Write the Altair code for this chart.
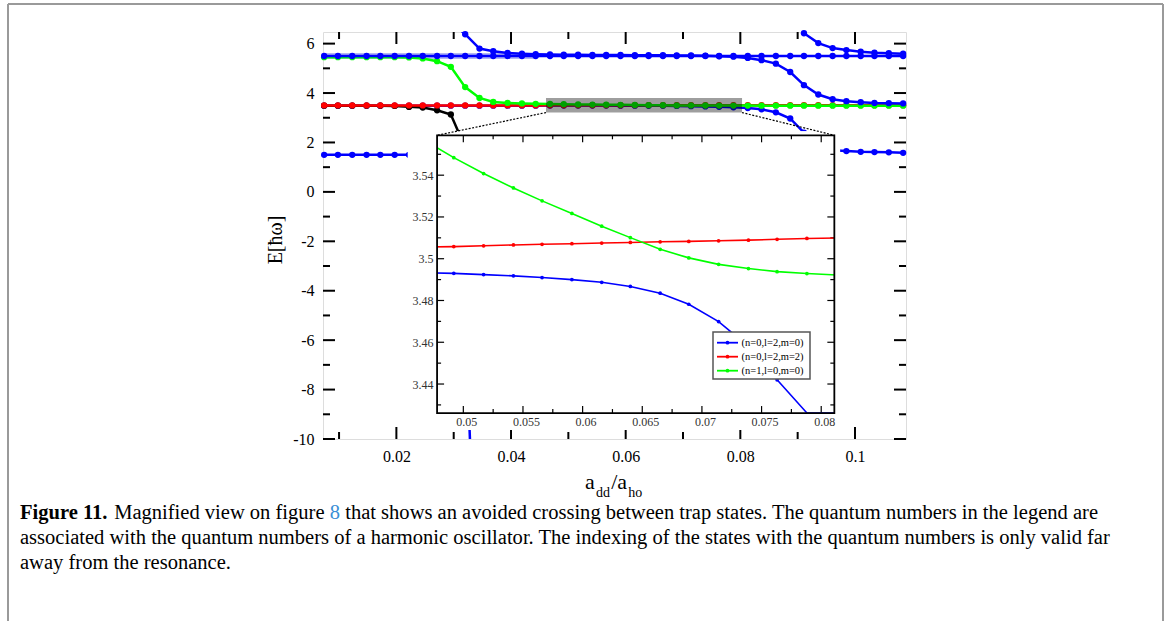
import altair as alt
import pandas as pd

# ---------------------------------------------------------------- data
# a_dd/a_ho grid shared by all curves
X = [0.0074, 0.0098, 0.0123, 0.0148, 0.0172, 0.0197, 0.0222, 0.0246, 0.0271, 0.0295,
     0.0320, 0.0345, 0.0369, 0.0394, 0.0419, 0.0443, 0.0468, 0.0492, 0.0517, 0.0542,
     0.0566, 0.0591, 0.0616, 0.0640, 0.0665, 0.0689, 0.0714, 0.0739, 0.0763, 0.0788,
     0.0813, 0.0837, 0.0862, 0.0887, 0.0911, 0.0936, 0.0961, 0.0985, 0.1010, 0.1034,
     0.1059, 0.1084]

# straight level at 5.5 (starts at index 0)
BLUE_55 = [5.50, 5.50, 5.50, 5.50, 5.50, 5.50, 5.50, 5.50, 5.50, 5.50,
           5.50, 5.50, 5.50, 5.50, 5.50, 5.50, 5.50, 5.50, 5.50, 5.50,
           5.50, 5.50, 5.50, 5.50, 5.50, 5.50, 5.50, 5.50, 5.50, 5.50,
           5.50, 5.50, 5.50, 5.50, 5.50, 5.50, 5.50, 5.50, 5.50, 5.50,
           5.50, 5.50]
# faint band under the 5.5 level (index 0..15)
BAND_55 = [5.50, 5.50, 5.50, 5.50, 5.50, 5.50, 5.50, 5.50, 5.50, 5.50,
           5.50, 5.50, 5.50, 5.50, 5.50, 5.50]
# state coming down from the top (starts at index 9)
BLUE_B = [6.90, 6.38, 5.80, 5.69, 5.62, 5.59, 5.57, 5.56, 5.55, 5.55,
          5.54, 5.54, 5.54, 5.53, 5.53, 5.53, 5.52, 5.52, 5.51, 5.49,
          5.47, 5.42, 5.33, 5.19, 4.85, 4.32, 3.94, 3.75, 3.67, 3.63,
          3.60, 3.59, 3.58]
# second state coming from the top on the right (starts at index 33)
BLUE_TOP2 = [7.30, 6.42, 6.02, 5.82, 5.74, 5.67, 5.63, 5.61, 5.59]
# (n=1,l=0,m=0) green (index 0..41)
GREEN = [5.45, 5.45, 5.45, 5.45, 5.45, 5.45, 5.44, 5.40, 5.29, 5.06,
         4.24, 3.80, 3.64, 3.60, 3.58, 3.565, 3.5565, 3.5484, 3.5408, 3.5339,
         3.5277, 3.5217, 3.5156, 3.5101, 3.5045, 3.5004, 3.4973, 3.4953, 3.4938, 3.4929,
         3.4922, 3.49, 3.49, 3.49, 3.49, 3.49, 3.49, 3.49, 3.49, 3.49,
         3.49, 3.49]
# (n=0,l=2,m=2) red (index 0..41)
RED = [3.50, 3.50, 3.50, 3.50, 3.50, 3.50, 3.50, 3.50, 3.50, 3.50,
       3.50, 3.50, 3.50, 3.50, 3.50, 3.50, 3.5056, 3.5058, 3.5062, 3.5066,
       3.5069, 3.5072, 3.5075, 3.5078, 3.5081, 3.5083, 3.5086, 3.5089, 3.5093, 3.5097,
       3.5099, 3.51, 3.51, 3.51, 3.51, 3.51, 3.51, 3.51, 3.51, 3.51,
       3.51, 3.51]
# (n=0,l=2,m=0) blue (index 0..41)
BLUE_C = [3.49, 3.49, 3.49, 3.49, 3.49, 3.49, 3.49, 3.49, 3.49, 3.49,
          3.49, 3.49, 3.49, 3.49, 3.49, 3.49, 3.4933, 3.4930, 3.4924, 3.4918,
          3.4910, 3.4900, 3.4887, 3.4867, 3.4835, 3.4782, 3.4699, 3.458, 3.442, 3.420,
          3.39, 3.34, 3.22, 2.97, 2.40, 1.90, 1.68, 1.65, 1.62, 1.61,
          1.60, 1.58]
# black state diving from 3.5 (index 0..11)
BLACK = [3.49, 3.49, 3.49, 3.49, 3.49, 3.48, 3.44, 3.41, 3.30, 3.13, 1.80, 1.60]
# lowest blue level diving (index 0..11)
BLUE_LOW = [1.50, 1.50, 1.50, 1.50, 1.50, 1.50, 1.50, 1.20, 0.00, -2.00, -5.00, -20.0]

INSET_START, INSET_STOP = 16, 31   # grid indices shown in the inset

LEGEND_LABELS = ["(n=0,l=2,m=0)", "(n=0,l=2,m=2)", "(n=1,l=0,m=0)"]

MAIN_X_MAJOR = [0.02, 0.04, 0.06, 0.08, 0.1]
MAIN_X_MINOR = [0.01, 0.03, 0.05, 0.07, 0.09]
MAIN_Y_MAJOR = [-10, -8, -6, -4, -2, 0, 2, 4, 6]
MAIN_Y_MINOR = [-9, -7, -5, -3, -1, 1, 3, 5]
INSET_X_MAJOR = [0.05, 0.055, 0.06, 0.065, 0.07, 0.075, 0.08]
INSET_X_MINOR = [0.0525, 0.0575, 0.0625, 0.0675, 0.0725, 0.0775]
INSET_Y_MAJOR = [3.44, 3.46, 3.48, 3.5, 3.52, 3.54]
INSET_Y_MINOR = [3.43, 3.45, 3.47, 3.49, 3.51, 3.53, 3.55]

MAIN_X_DOMAIN = [0.0072, 0.1089]
MAIN_Y_DOMAIN = [-10.0, 6.47]
INSET_X_DOMAIN = [0.0478, 0.0811]
INSET_Y_DOMAIN = [3.4261, 3.5591]
INSET_BOX_X = [0.0271, 0.0964]     # inset frame, in main-plot coordinates
INSET_BOX_E = [-8.95, 2.29]
WHITE_BOX_X = [0.0220, 0.0974]     # white area behind the inset
WHITE_BOX_E = [-9.64, 2.455]
ZOOM_BOX_X = [0.0461, 0.0803]      # gray magnified region
ZOOM_BOX_E = [3.21, 3.80]

# caption pieces (line 1 is split around the bold label and the blue reference)
CAPTION_1 = [("Figure 11.", "bold", "black"),
             ("Magnified view on figure", "normal", "black"),
             ("8", "normal", "#3b8fd6"),
             ("that shows an avoided crossing between trap states. "
              "The quantum numbers in the legend are", "normal", "black")]
CAPTION_2 = ("associated with the quantum numbers of a harmonic oscillator. "
             "The indexing of the states with the quantum numbers is only valid far")
CAPTION_3 = "away from the resonance."

# ---------------------------------------------------------------- layout
W, H = 583, 407
PAD = {"left": 323, "top": 32, "right": 265, "bottom": 182}
FONT = "Liberation Serif"
BLUE, RED_C, GREEN_C = "#0000ff", "#ff0000", "#00ff00"


def mx(v):
    return (v - MAIN_X_DOMAIN[0]) / (MAIN_X_DOMAIN[1] - MAIN_X_DOMAIN[0]) * W


def my(v):
    return (MAIN_Y_DOMAIN[1] - v) / (MAIN_Y_DOMAIN[1] - MAIN_Y_DOMAIN[0]) * H


INSET_XR = [mx(INSET_BOX_X[0]), mx(INSET_BOX_X[1])]
INSET_YR = [my(INSET_BOX_E[0]), my(INSET_BOX_E[1])]

SX = alt.Scale(domain=MAIN_X_DOMAIN, nice=False, zero=False)
SY = alt.Scale(domain=MAIN_Y_DOMAIN, nice=False, zero=False)
SXI = alt.Scale(domain=INSET_X_DOMAIN, range=INSET_XR, nice=False, zero=False)
SYI = alt.Scale(domain=INSET_Y_DOMAIN, range=INSET_YR, nice=False, zero=False, clamp=True)

AX_MX = alt.Axis(values=MAIN_X_MAJOR, format="~g", ticks=False, domain=False, grid=False,
                 labelFont=FONT, labelFontSize=16, labelColor="black", labelPadding=9,
                 labelFlush=False, labelOverlap=False, title=None)
AX_MY = alt.Axis(values=MAIN_Y_MAJOR, labelExpr="'' + datum.value", ticks=False, domain=False,
                 grid=False, labelFont=FONT, labelFontSize=16, labelColor="black",
                 labelPadding=9, labelFlush=False, labelOverlap=False, title=None)
AX_IX = alt.Axis(orient="bottom", offset=INSET_YR[0] - H, values=INSET_X_MAJOR, format="~g",
                 ticks=False, domain=False, grid=False, labelFont=FONT, labelFontSize=12,
                 labelColor="#333333", labelPadding=3, labelOffset=3, labelFlush=False,
                 labelOverlap=False, title=None, zindex=1)
AX_IY = alt.Axis(orient="left", offset=-INSET_XR[0], values=INSET_Y_MAJOR, format="~g",
                 ticks=False, domain=False, grid=False, labelFont=FONT, labelFontSize=12,
                 labelColor="#333333", labelPadding=4, labelFlush=False,
                 labelOverlap=False, title=None, zindex=1)


def mX(f="x"):
    return alt.X(f"{f}:Q", scale=SX, axis=AX_MX)


def mY(f="E"):
    return alt.Y(f"{f}:Q", scale=SY, axis=AX_MY)


def iX(f="x"):
    return alt.X(f"{f}:Q", scale=SXI, axis=AX_IX)


def iY(f="E"):
    return alt.Y(f"{f}:Q", scale=SYI, axis=AX_IY)


def oX(f="x"):
    return alt.X(f"{f}:Q", scale=alt.Scale(domain=MAIN_X_DOMAIN, nice=False, zero=False), axis=None)


def oY(f="E"):
    return alt.Y(f"{f}:Q", scale=alt.Scale(domain=MAIN_Y_DOMAIN, nice=False, zero=False), axis=None)


def sdf(start, values):
    return pd.DataFrame({"x": X[start:start + len(values)], "E": values})


def main_series(start, values, color, width=2.5, size=40):
    df = sdf(start, values)
    line = alt.Chart(df).mark_line(color=color, strokeWidth=width, clip=True).encode(x=mX(), y=mY())
    vis = df[(df.E >= MAIN_Y_DOMAIN[0]) & (df.E <= MAIN_Y_DOMAIN[1])]
    pts = alt.Chart(vis).mark_circle(color=color, size=size, opacity=1).encode(x=mX(), y=mY())
    return [line, pts]


def inset_series(values, color):
    df = sdf(INSET_START, values[INSET_START:INSET_STOP])
    line = alt.Chart(df).mark_line(color=color, strokeWidth=1.6).encode(x=iX(), y=iY())
    vis = df[(df.x >= INSET_X_DOMAIN[0]) & (df.x <= INSET_X_DOMAIN[1]) &
             (df.E >= INSET_Y_DOMAIN[0]) & (df.E <= INSET_Y_DOMAIN[1])]
    pts = alt.Chart(vis).mark_circle(color=color, size=14, opacity=1).encode(x=iX(), y=iY())
    return [line, pts]


def ticks(xvals, yvals, xdom, ydom, size, thick, fx, fy, color="black"):
    out = []
    dx = pd.DataFrame({"x": xvals})
    dy = pd.DataFrame({"E": yvals})
    for yd, off in ((ydom[0], -size / 2), (ydom[1], size / 2)):
        out.append(alt.Chart(dx).mark_tick(orient="vertical", size=size, thickness=thick,
                                           color=color, yOffset=off, opacity=1)
                   .encode(x=fx(), y=alt.datum(yd)))
    for xd, off in ((xdom[0], size / 2), (xdom[1], -size / 2)):
        out.append(alt.Chart(dy).mark_tick(orient="horizontal", size=size, thickness=thick,
                                           color=color, xOffset=off, opacity=1)
                   .encode(y=fy(), x=alt.datum(xd)))
    return out


ONE = pd.DataFrame({"a": [0]})


def box_df(xs, es):
    return pd.DataFrame({"x": [xs[0]], "x2": [xs[1]], "E": [es[0]], "E2": [es[1]]})


# ---------------------------------------------------------------- main plot
main_children = []
main_children += ticks(MAIN_X_MAJOR, MAIN_Y_MAJOR, MAIN_X_DOMAIN, MAIN_Y_DOMAIN, 12, 2, mX, mY)
main_children += ticks(MAIN_X_MINOR, MAIN_Y_MINOR, MAIN_X_DOMAIN, MAIN_Y_DOMAIN, 7, 2, mX, mY)
main_children.append(alt.Chart(sdf(0, BAND_55)).mark_line(color="#b4b8f2", strokeWidth=6)
                     .encode(x=mX(), y=mY()))
main_children += main_series(0, BLUE_C, BLUE)
main_children += main_series(0, BLACK, "black")
main_children += main_series(0, RED, RED_C)
main_children += main_series(0, GREEN, GREEN_C)
main_children += main_series(0, BLUE_LOW, BLUE)
main_children += main_series(0, BLUE_55, BLUE)
main_children += main_series(9, BLUE_B, BLUE)
main_children += main_series(33, BLUE_TOP2, BLUE)
main_children.append(alt.Chart(box_df(ZOOM_BOX_X, ZOOM_BOX_E)).mark_rect(color="black", opacity=0.38)
                     .encode(x=mX(), x2="x2", y=mY(), y2="E2"))
main_children.append(alt.Chart(box_df(WHITE_BOX_X, WHITE_BOX_E)).mark_rect(color="white", opacity=1)
                     .encode(x=mX(), x2="x2", y=mY(), y2="E2"))

# ---------------------------------------------------------------- inset
inset_children = []
inset_children += ticks(INSET_X_MAJOR, INSET_Y_MAJOR, INSET_X_DOMAIN, INSET_Y_DOMAIN, 7, 1.2, iX, iY)
inset_children += ticks(INSET_X_MINOR, INSET_Y_MINOR, INSET_X_DOMAIN, INSET_Y_DOMAIN, 4, 1.2, iX, iY)
inset_children += inset_series(RED, RED_C)
inset_children += inset_series(BLUE_C, BLUE)
inset_children += inset_series(GREEN, GREEN_C)

# ---------------------------------------------------------------- overlay
over = []
# white strips that trim the inset curves at the frame
strips = [
    ([WHITE_BOX_X[0], INSET_BOX_X[0]], WHITE_BOX_E),
    ([INSET_BOX_X[1], WHITE_BOX_X[1]], WHITE_BOX_E),
    (WHITE_BOX_X, [INSET_BOX_E[1], WHITE_BOX_E[1]]),
    (WHITE_BOX_X, [WHITE_BOX_E[0], INSET_BOX_E[0]]),
]
for xs, es in strips:
    over.append(alt.Chart(box_df(xs, es)).mark_rect(color="white", opacity=1)
                .encode(x=oX(), x2="x2", y=oY(), y2="E2"))
over.append(alt.Chart(box_df(INSET_BOX_X, INSET_BOX_E))
            .mark_rect(fillOpacity=0, stroke="black", strokeWidth=1.8)
            .encode(x=oX(), x2="x2", y=oY(), y2="E2"))
conn = pd.DataFrame({"x": ZOOM_BOX_X, "E": [ZOOM_BOX_E[0], ZOOM_BOX_E[0]],
                     "x2": INSET_BOX_X, "E2": [INSET_BOX_E[1], INSET_BOX_E[1]]})
over.append(alt.Chart(conn).mark_rule(color="black", strokeWidth=1.2, strokeDash=[2, 1.5])
            .encode(x=oX(), x2="x2", y=oY(), y2="E2"))

# inset legend
LX0, LX1, LY0, LY1 = 390, 487, 300, 347
over.append(alt.Chart(ONE).mark_rect(fill="white", stroke="#555555", strokeWidth=1.5)
            .encode(x=alt.value(LX0), x2=alt.value(LX1), y=alt.value(LY0), y2=alt.value(LY1)))
for i, (lab, col) in enumerate(zip(LEGEND_LABELS, [BLUE, RED_C, GREEN_C])):
    yy = 310.7 + 14 * i
    over.append(alt.Chart(ONE).mark_rule(color=col, strokeWidth=1.8)
                .encode(x=alt.value(394), x2=alt.value(415), y=alt.value(yy)))
    over.append(alt.Chart(ONE).mark_circle(color=col, size=14, opacity=1)
                .encode(x=alt.value(404.5), y=alt.value(yy)))
    over.append(alt.Chart(ONE).mark_text(text=lab, font=FONT, fontSize=10.5, color="black",
                                         align="left", baseline="middle")
                .encode(x=alt.value(418.5), y=alt.value(yy + 0.5)))

# axis titles
over.append(alt.Chart(ONE).mark_text(text="E[ħω]", font=FONT, fontSize=20, angle=270,
                                     align="center", baseline="middle", color="black")
            .encode(x=alt.value(-47), y=alt.value(208)))
# a_dd / a_ho
TIMES = dict(zip("ABCDEFGHIJKLMNOPQRSTUVWXYZ",
                 [722, 667, 667, 722, 611, 556, 722, 722, 333, 389, 722, 611, 889,
                  722, 722, 556, 722, 667, 556, 611, 722, 722, 944, 722, 722, 611]))
TIMES.update(dict(zip("abcdefghijklmnopqrstuvwxyz",
                      [444, 500, 444, 500, 444, 333, 500, 500, 278, 278, 500, 278, 778,
                       500, 500, 500, 500, 333, 389, 278, 500, 500, 722, 500, 500, 444])))
TIMES.update({c: 500 for c in "0123456789"})
TIMES.update({" ": 250, ".": 250, ",": 250, "(": 333, ")": 333, "/": 278, "-": 333, "=": 564})
TIMES_B = {"F": 611, "i": 278, "g": 500, "u": 556, "r": 444, "e": 444, " ": 250, "1": 500, ".": 250}


def tw(s, size, table=TIMES):
    return sum(table.get(c, 500) for c in s) / 1000.0 * size


t_big, t_sub = 22, 14
tx = 262.0
for txt, sz, base in (("a", t_big, 457), ("dd", t_sub, 465), ("/a", t_big, 457), ("ho", t_sub, 465)):
    over.append(alt.Chart(ONE).mark_text(text=txt, font=FONT, fontSize=sz, align="left",
                                         baseline="alphabetic", color="black")
                .encode(x=alt.value(tx), y=alt.value(base)))
    tx += tw(txt, sz) + 1.2

# caption
CAP = 0.975 * 1120.0 / tw(CAPTION_2, 1.0)
cx0 = -303.0
cy = [487, 512, 537]
cx = cx0
for txt, wgt, col in CAPTION_1:
    over.append(alt.Chart(ONE).mark_text(text=txt, font=FONT, fontSize=CAP, fontWeight=wgt,
                                         color=col, align="left", baseline="alphabetic")
                .encode(x=alt.value(cx), y=alt.value(cy[0])))
    cx += tw(txt, CAP, TIMES_B if wgt == "bold" else TIMES) + tw(" ", CAP)
for txt, yy in ((CAPTION_2, cy[1]), (CAPTION_3, cy[2])):
    over.append(alt.Chart(ONE).mark_text(text=txt, font=FONT, fontSize=CAP, color="black",
                                         align="left", baseline="alphabetic")
                .encode(x=alt.value(cx0), y=alt.value(yy)))

# outer page frame
FR = "#9a9a9a"
over.append(alt.Chart(ONE).mark_rule(color=FR, strokeWidth=2)
            .encode(x=alt.value(-315), y=alt.value(-28), y2=alt.value(700)))
over.append(alt.Chart(ONE).mark_rule(color=FR, strokeWidth=2)
            .encode(x=alt.value(840), y=alt.value(-28), y2=alt.value(700)))
over.append(alt.Chart(ONE).mark_rule(color=FR, strokeWidth=2)
            .encode(x=alt.value(-315), x2=alt.value(840), y=alt.value(-28)))

chart = alt.layer(
    alt.layer(*main_children),
    alt.layer(*inset_children),
    alt.layer(*over),
).resolve_scale(x="independent", y="independent").properties(
    width=W, height=H, padding=PAD, autosize=alt.AutoSizeParams(type="none")
).configure_view(stroke="black", strokeWidth=2.5).configure(background="white")

chart.save("out.html", embed_options={"renderer": "svg", "actions": False})
